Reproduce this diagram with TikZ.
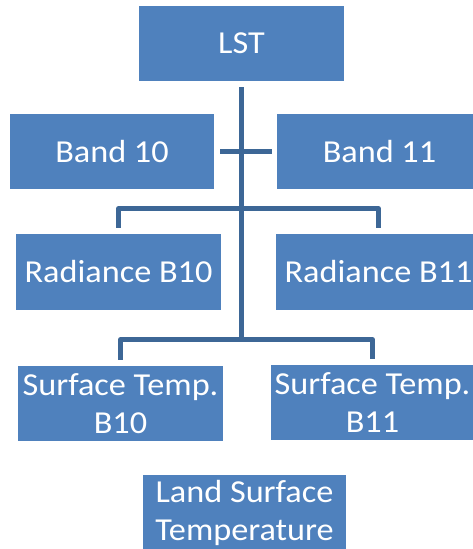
\documentclass[tikz,border=0pt]{standalone}
\usepackage{fontspec}
\setmainfont{Carlito}[FakeStretch=1.07]
\usetikzlibrary{
  calc % For coordinate calculations
}
\definecolor{boxblue}{HTML}{4F81BD}
\definecolor{linkblue}{HTML}{3D6796}

\begin{document}
\begin{tikzpicture}[
      x=1pt, y=-1pt, % pixel grid, y downwards
      box/.style={fill=boxblue, text=white, inner sep=0pt,
        minimum width=205pt, minimum height=75pt, align=center,
        font=\fontsize{32}{38}\selectfont}, % Style for the blue boxes
      link/.style={linkblue, line width=5pt, line join=round}, % Style for connectors
    ]

    \useasboundingbox (0,0) rectangle (472,549);

    % Boxes
    \node[box] (LST) at (241.5,43.5) {LST};
    \node[box, minimum width=204pt] (B10) at (112,151.5) {Band 10};
    \node[box] (B11) at (379.5,151.5) {Band 11};
    \node[box, minimum height=76pt] (R10) at (118.5,272) {Radiance B10};
    \node[box, minimum height=76pt] (R11) at (378.5,272) {Radiance B11};
    \node[box] (S10) at (120.5,403.5) {Surface Temp.\\B10};
    \node[box, minimum width=203pt] (S11) at (372.5,402.5) {Surface Temp.\\B11};
    \node[box, minimum width=203pt] (LSTout) at (244.5,512.5) {Land Surface\\Temperature};

    % Stamm
    \draw[link] ($(LST.south)+(0,6)$) -- ($(LST.south |- S10.north)+(0,-26)$);

    % Querbalken
    \draw[link] ($(B10.east)+(6,0)$) -- ($(B11.west)+(-5,0)$);

    % Klammern
    \draw[link] ($(R10.north)+(0,-6)$) |- ($(LST.south |- R10.north)+(0,-25)$)
      -| ($(R11.north)+(0,-6)$);
    \draw[link] ($(S10.north)+(0,-6)$) |- ($(LST.south |- S10.north)+(0,-26)$)
      -| ($(S11.north)+(0,-6)$);

  \end{tikzpicture}
\end{document}
